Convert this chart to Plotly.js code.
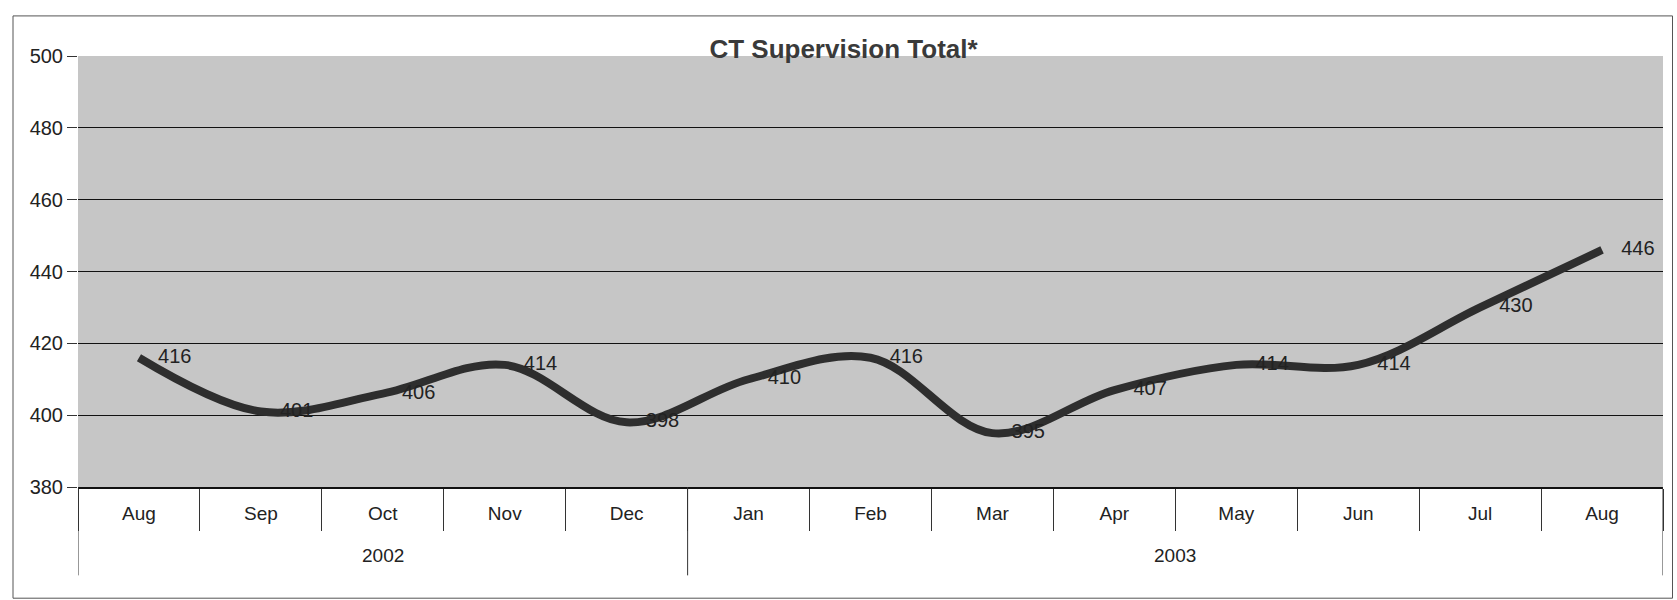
<!DOCTYPE html>
<html>
<head>
<meta charset="utf-8">
<script src="https://cdn.plot.ly/plotly-3.0.1.min.js"></script>
<style>
html,body{margin:0;padding:0;background:#fff;}
#chart{width:1677px;height:600px;}
</style>
</head>
<body>
<div id="chart"></div>
<script>
var years = ["2002","2002","2002","2002","2002","2003","2003","2003","2003","2003","2003","2003","2003"];
var months = ["Aug","Sep","Oct","Nov","Dec","Jan","Feb","Mar","Apr","May","Jun","Jul","Aug"];
var totals = [416, 401, 406, 414, 398, 410, 416, 395, 407, 414, 414, 430, 446];
var labels = totals.map(String);
var yTicks = [380, 400, 420, 440, 460, 480, 500];

var FONT = 'Liberation Sans, Arial, sans-serif';
var idx = months.map(function(_, i){ return i; });

// year groups derived from the years array
var groups = [];
years.forEach(function(y, i){
  if (!groups.length || groups[groups.length-1].year !== y) groups.push({year: y, start: i, end: i});
  else groups[groups.length-1].end = i;
});

var annotations = groups.map(function(g){
  return {x: (g.start + g.end) / 2, xref: 'x', y: -0.16, yref: 'paper', yanchor: 'middle',
          text: g.year, showarrow: false, font: {family: FONT, size: 19, color: '#222'}};
});

var shapes = [];
var bounds = [-0.5];
groups.forEach(function(g){ bounds.push(g.end + 0.5); });
bounds.forEach(function(b){
  shapes.push({type: 'line', xref: 'x', yref: 'paper', x0: b, x1: b, y0: 0, y1: -0.205,
               line: {color: '#333', width: 1}});
});
shapes.push({type: 'rect', xref: 'paper', yref: 'paper', x0: -0.041, x1: 1.006, y0: -0.258, y1: 1.093,
             line: {color: '#555', width: 1}, fillcolor: 'rgba(0,0,0,0)', layer: 'below'});

var trace = {
  x: idx,
  y: totals,
  type: 'scatter',
  mode: 'lines+markers+text',
  line: {color: '#2e2e2e', width: 8, shape: 'spline', smoothing: 1},
  marker: {size: 29, opacity: 0, color: '#2e2e2e'},
  text: labels,
  textposition: 'middle right',
  textfont: {family: FONT, size: 20, color: '#222'},
  cliponaxis: false,
  hoverinfo: 'y'
};

var layout = {
  width: 1677, height: 600,
  margin: {l: 78, r: 14, t: 56, b: 113},
  paper_bgcolor: '#ffffff',
  plot_bgcolor: '#c6c6c6',
  showlegend: false,
  font: {family: FONT, size: 19, color: '#222'},
  title: {
    text: '<b>CT Supervision Total*</b>',
    font: {family: FONT, size: 26, color: '#3a3a3a'},
    x: 0.503, xanchor: 'center', y: 0.918, yanchor: 'middle'
  },
  xaxis: {
    type: 'linear',
    range: [-0.5, months.length - 0.5],
    tickmode: 'array', tickvals: idx, ticktext: months,
    ticks: '', ticklabelstandoff: 9,
    showline: true, linecolor: '#111', linewidth: 1.5,
    showgrid: false, zeroline: false,
    tickfont: {family: FONT, size: 19, color: '#222'},
    minor: {tickmode: 'linear', tick0: -0.5, dtick: 1, ticks: 'outside', ticklen: 42,
            tickcolor: '#333', tickwidth: 1, showgrid: false}
  },
  yaxis: {
    range: [380, 500],
    tickvals: yTicks,
    showgrid: true, gridcolor: '#111', gridwidth: 1.3,
    zeroline: false,
    showline: false,
    ticks: 'outside', ticklen: 10, tickcolor: '#333',
    tickfont: {family: FONT, size: 20, color: '#222'}
  },
  annotations: annotations,
  shapes: shapes
};

Plotly.newPlot('chart', [trace], layout, {displayModeBar: false, staticPlot: true});
</script>
</body>
</html>
